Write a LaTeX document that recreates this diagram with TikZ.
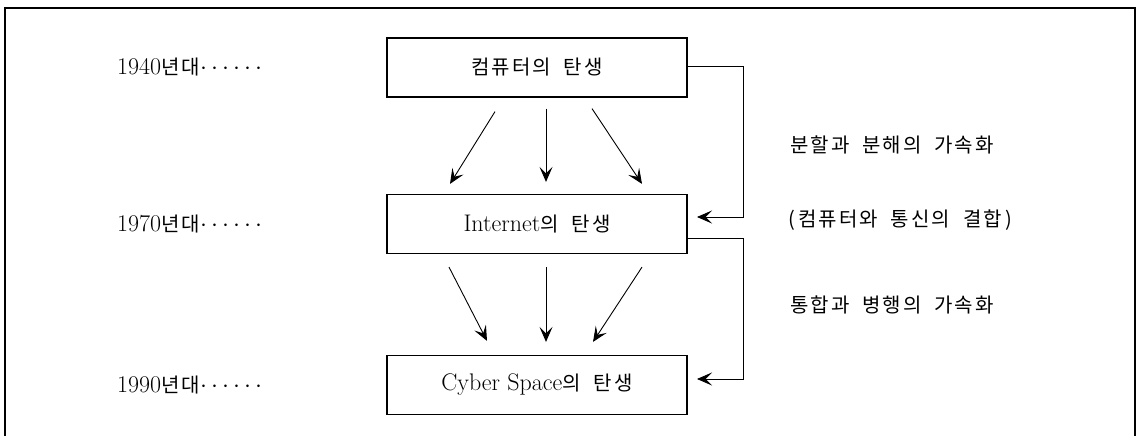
\documentclass[tikz,border=0pt]{standalone}
\usepackage{fontspec}
\newfontfamily\kr[LetterSpace=10,WordSpace=2]{Noto Sans CJK KR}
\usetikzlibrary{arrows.meta}
\newcommand\krs{\fontsize{20}{24}\selectfont\kr}
\tikzset{
  era/.style={anchor=west, inner sep=0pt, font=\fontsize{24}{28}\selectfont},
  stage/.style={draw, line width=1.2pt, minimum width=300pt, minimum height=59pt, inner sep=0pt, font=\fontsize{24}{28}\selectfont},
  note/.style={anchor=west, inner sep=0pt, font=\krs},
  conn/.style={line width=0.9pt, -{Stealth[length=15pt,width=13pt,inset=6.5pt]}},
  loop/.style={line width=0.8pt, -{Stealth[length=15pt,width=13pt,inset=6.5pt]}},
  frame/.style={line width=2pt}
}
\begin{document}
\begin{tikzpicture}[x=1pt,y=-1pt]
\useasboundingbox (0,0) rectangle (1138,436);
\draw[frame] (5,436) -- (5,8) -- (1135,8) -- (1135,436);

\node[stage] (b1) at (537,67.5) {{\krs 컴퓨터의 탄생}};
\node[stage] (b2) at (537,224) {Internet{\krs 의 탄생}};
\node[stage] (b3) at (537,385) {Cyber Space{\krs 의 탄생}};

\node[era] (e1) at (117,67) {1940{\krs 년대}$\cdots\cdots$};
\node[era] (e2) at (117,224) {1970{\krs 년대}$\cdots\cdots$};
\node[era] (e3) at (117,385) {1990{\krs 년대}$\cdots\cdots$};

\node[note] (n1) at (790,145) {분할과 분해의 가속화};
\node[note] (n2) at (788,220) {(\,컴퓨터와 통신의 결합\,)};
\node[note] (n3) at (790,305) {통합과 병행의 가속화};

% arrows b1 -> b2
\draw[conn] ([xshift=-42pt,yshift=-14pt]b1.south) -- ([xshift=-87pt,yshift=10pt]b2.north);
\draw[conn] ([xshift=9pt,yshift=-11pt]b1.south) -- ([xshift=9pt,yshift=12pt]b2.north);
\draw[conn] ([xshift=55pt,yshift=-11pt]b1.south) -- ([xshift=105pt,yshift=10pt]b2.north);
% arrows b2 -> b3
\draw[conn] ([xshift=-88pt,yshift=-13pt]b2.south) -- ([xshift=-50pt,yshift=14pt]b3.north);
\draw[conn] ([xshift=9pt,yshift=-13pt]b2.south) -- ([xshift=9pt,yshift=13pt]b3.north);
\draw[conn] ([xshift=105pt,yshift=-13pt]b2.south) -- ([xshift=56pt,yshift=13pt]b3.north);

% side loops
\coordinate (k1) at (743,217);
\coordinate (a1) at (697,217);
\coordinate (k2) at (743,379);
\coordinate (a2) at (697,379);
\draw[loop] ([yshift=1.5pt]b1.east) -| (k1) -- (a1);
\draw[loop] ([yshift=-14pt]b2.east) -| (k2) -- (a2);
\end{tikzpicture}
\end{document}
